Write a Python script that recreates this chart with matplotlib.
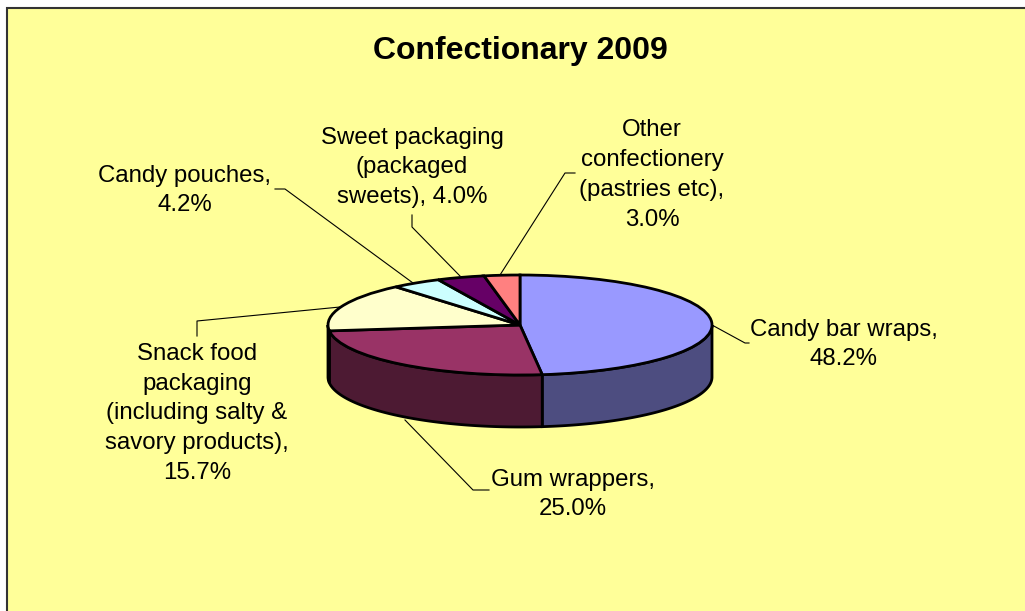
import numpy as np
import matplotlib
matplotlib.use('Agg')
import matplotlib.pyplot as plt
from matplotlib.patches import Polygon, Rectangle
from matplotlib.colors import to_rgb

plt.rcParams['font.family'] = ['Liberation Sans', 'DejaVu Sans']

values = [48.2, 25.0, 15.7, 4.2, 4.0, 3.0]
colors = ['#9999FF', '#993366', '#FFFFCC', '#CCFFFF', '#660066', '#FF8080']
label_text = ['Candy bar wraps,\n{:.1f}%',
              'Gum wrappers,\n{:.1f}%',
              'Snack food\npackaging\n(including salty &\nsavory products),\n{:.1f}%',
              'Candy pouches,\n{:.1f}%',
              'Sweet packaging\n(packaged\nsweets), {:.1f}%',
              'Other\nconfectionery\n(pastries etc),\n{:.1f}%']
label_pos = [(844, 344.5), (573, 494.5), (197, 413.5), (185, 190.5), (412, 167.5), (652, 175)]
leaders = [[(712, 325), (745, 343), (749, 343)],
           [(405, 420), (473, 490), (489, 490)],
           [(340, 307), (197, 321), (197, 336)],
           [(413, 283), (285, 189), (275, 189)],
           [(460, 276), (412, 227), (412, 215)],
           [(500, 275), (565, 173), (575, 173)]]

W, H = 1025, 611
fig = plt.figure(figsize=(W / 100, H / 100), dpi=100, facecolor='white')

# overlay in pixel coordinates for panel, leaders and text
bg = fig.add_axes([0, 0, 1, 1])
bg.set_xlim(0, W)
bg.set_ylim(H, 0)
bg.axis('off')
bg.add_patch(Rectangle((7, 8), W + 20, H + 20, fc='#FFFF99', ec='#333333', lw=1.5))

for pts in leaders:
    xs, ys = zip(*pts)
    bg.plot(xs, ys, color='black', lw=0.8)

bg.text(520, 51, 'Confectionary 2009', fontsize=23, fontweight='bold',
        ha='center', va='center')
for txt, v, (x, y) in zip(label_text, values, label_pos):
    bg.text(x, y, txt.format(v), fontsize=17.3, ha='center', va='center',
            linespacing=1.47)

# pie: top ellipse rx=192, ry=50 px, side wall 52 px below it
cx, cy, rx, ry, depth = 520, 325, 192, 50, 52
ax = fig.add_axes([(cx - rx) / W, 1 - (cy + ry + depth) / H,
                   2 * rx / W, (2 * ry + depth) / H])
wedges, _ = ax.pie(values, colors=colors, startangle=90, counterclock=False,
                   wedgeprops=dict(edgecolor='black', linewidth=2))
for w in wedges:
    w.set_clip_on(False)
ax.set_aspect('auto')
d = depth / ry
ax.set_xlim(-1, 1)
ax.set_ylim(-1 - d, 1)
ax.patch.set_alpha(0)

fracs = np.cumsum([0] + values) / sum(values) * 2 * np.pi
for i, c in enumerate(colors):
    a0 = max(fracs[i], np.pi / 2)
    a1 = min(fracs[i + 1], 3 * np.pi / 2)
    if a1 <= a0:
        continue
    t = np.linspace(a0, a1, 100)
    x, y = np.sin(t), np.cos(t)
    verts = np.r_[np.c_[x, y], np.c_[x[::-1], y[::-1] - d]]
    side = tuple(0.5 * k for k in to_rgb(c))
    ax.add_patch(Polygon(verts, closed=True, fc=side, ec='black', lw=2,
                         zorder=0.5, clip_on=False))

fig.savefig('out.png', dpi=100, facecolor='white')
